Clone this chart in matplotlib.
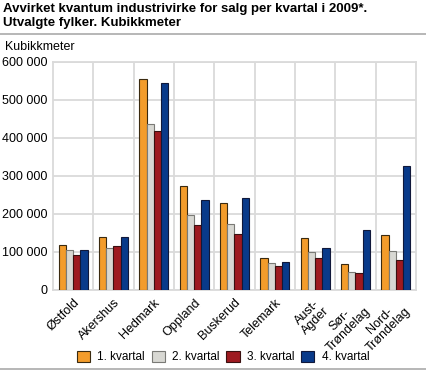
import numpy as np
import matplotlib.pyplot as plt
from matplotlib.ticker import FuncFormatter

fylker = ['Østfold', 'Akershus', 'Hedmark', 'Oppland', 'Buskerud', 'Telemark',
          'Aust-\nAgder', 'Sør-\nTrøndelag', 'Nord-\nTrøndelag']
kv1 = [118000, 139000, 556000, 273000, 229000, 82000, 136000, 66000, 143000]
kv2 = [104000, 110000, 437000, 196000, 174000, 70000, 98000, 47000, 102000]
kv3 = [92000, 116000, 419000, 171000, 147000, 61000, 84000, 43000, 79000]
kv4 = [104000, 139000, 545000, 236000, 242000, 72000, 110000, 157000, 325000]
serier = ['1. kvartal', '2. kvartal', '3. kvartal', '4. kvartal']
farger = ['#F39C2B', '#D8D8D3', '#9E1A20', '#093A8A']
kanter = ['#3a2a10', '#7a7a76', '#3a1010', '#10183a']

plt.rcParams['font.family'] = ['Liberation Sans', 'DejaVu Sans']

fig = plt.figure(figsize=(4.27, 3.72), dpi=100)
ax = fig.add_axes([53/427, 1 - 289.5/372, 363/427, 227.5/372])

x = np.arange(len(fylker))
w = 0.18
for i, (vals, c, ec, lab) in enumerate(zip([kv1, kv2, kv3, kv4], farger, kanter, serier)):
    ax.bar(x + (i - 1.5) * w, vals, width=w, color=c, edgecolor=ec, linewidth=0.8,
           label=lab, zorder=3)

ax.set_xlim(-0.5, len(fylker) - 0.5)
ax.set_ylim(0, 600000)
ax.set_yticks(range(0, 600001, 100000))
ax.yaxis.set_major_formatter(FuncFormatter(lambda v, p: f'{int(v):,}'.replace(',', ' ')))
ax.set_xticks(x)
ax.set_xticklabels(fylker, rotation=45, ha='right', rotation_mode='anchor',
                   multialignment='center', fontsize=9, linespacing=1.0)
ax.tick_params(axis='y', labelsize=9, length=0, pad=4)
ax.tick_params(axis='x', length=0, pad=5)

ax.grid(axis='y', color='#dadada', linewidth=1.3, zorder=0)
for b in np.arange(0.5, len(fylker) - 0.5, 1):
    ax.axvline(b, color='#dadada', linewidth=1.3, zorder=0)
for s in ax.spines.values():
    s.set_color('#dadada')
    s.set_linewidth(1.3)

fig.text(3/427, 1 - 3/372, 'Avvirket kvantum industrivirke for salg per kvartal i 2009*.\nUtvalgte fylker. Kubikkmeter',
         fontsize=9.5, fontweight='bold', va='top', ha='left', linespacing=1.2)
fig.add_artist(plt.Line2D([0, 1], [1 - 34/372, 1 - 34/372], color='#aaaaaa', linewidth=1.2))
fig.add_artist(plt.Line2D([0, 1], [1 - 369/372, 1 - 369/372], color='#aaaaaa', linewidth=1.2))
fig.text(5/427, 1 - 47/372, 'Kubikkmeter', fontsize=9, va='center', ha='left')

fig.legend(loc='center', bbox_to_anchor=(223/427, 1 - 357/372), ncol=4, fontsize=8.5,
           frameon=False, handlelength=1.15, handleheight=1.15, handletextpad=0.6,
           columnspacing=0.55, borderpad=0)

fig.savefig('out.png', dpi=100)
